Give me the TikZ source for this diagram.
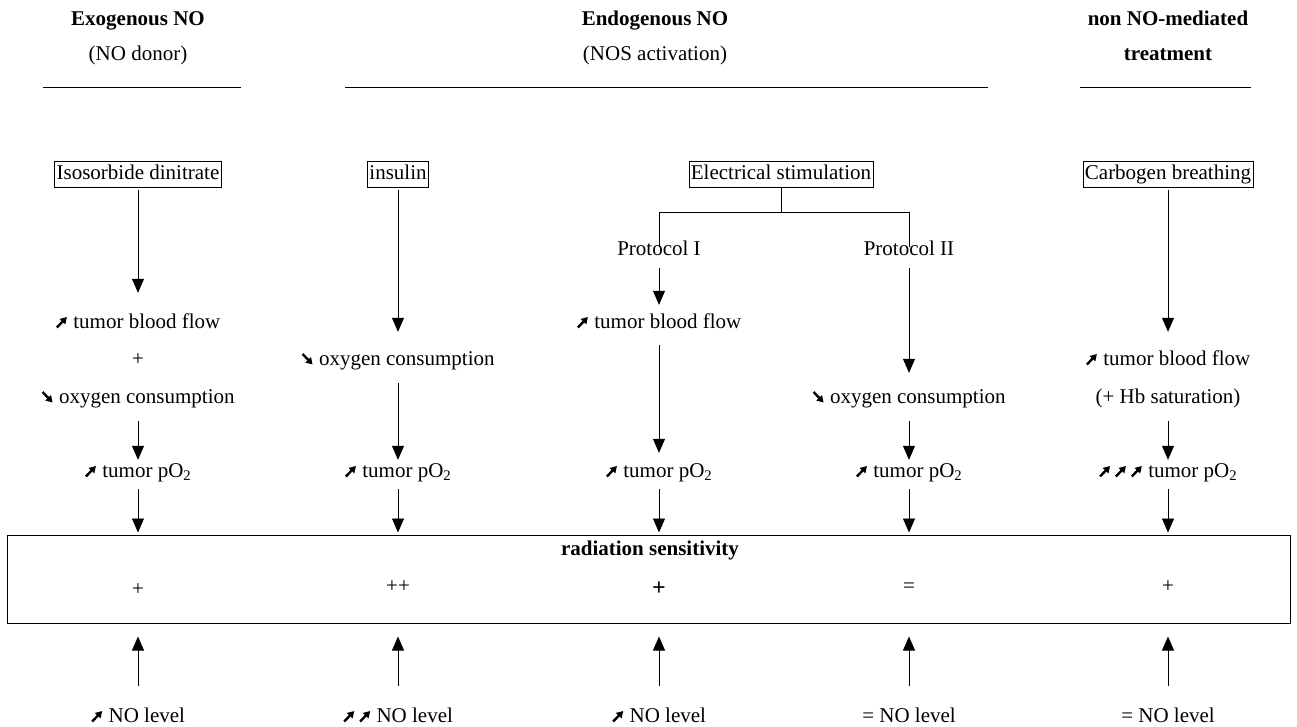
\documentclass[tikz,border=0pt]{standalone}
\usepackage{fontspec}
\setmainfont{Liberation Serif}
\usetikzlibrary{arrows.meta}
\newcommand{\incr}{\tikz[x=1pt,y=1pt,baseline=0pt]{\draw[line width=2.4pt,-{Triangle[width=7.5pt,length=6.5pt]}] (0,0.5) -- (10,11);}}
\newcommand{\decr}{\tikz[x=1pt,y=1pt,baseline=0pt]{\draw[line width=2.4pt,-{Triangle[width=7.5pt,length=6.5pt]}] (0,11) -- (10,0.5);}}
\begin{document}
\begin{tikzpicture}[x=1pt,y=-1pt,
  txt/.style={font=\fontsize{21}{25}\selectfont, text height=14pt, text depth=4pt, inner xsep=2pt, inner ysep=0pt},
  hd/.style={txt, font=\fontsize{21}{25}\selectfont\bfseries},
  bx/.style={txt, draw, line width=0.8pt, inner xsep=2pt, inner ysep=4pt},
  arr/.style={-{Triangle[width=12pt,length=14pt]}, line width=0.8pt},
  rule/.style={line width=1pt},
  thin/.style={line width=0.8pt}]
\useasboundingbox (0,0) rectangle (1297,726);

% headers
\node[hd]  (h1) at (138,20) {Exogenous NO};
\node[txt] (s1) at (138,55) {(NO donor)};
\node[hd]  (h2) at (655,20) {Endogenous NO};
\node[txt] (s2) at (655,55) {(NOS activation)};
\node[hd]  (h3) at (1168,20) {non NO-mediated};
\node[hd]  (s3) at (1168,55) {treatment};
\draw[rule] (43,87) -- (241,87);
\draw[rule] (345,87) -- (988,87);
\draw[rule] (1080,87) -- (1251,87);

% treatment boxes
\node[bx] (b1) at (138,174) {Isosorbide dinitrate};
\node[bx] (b2) at (398,174) {insulin};
\node[bx] (b3) at (781,174) {Electrical stimulation};
\node[bx] (b5) at (1168,174) {Carbogen breathing};

% column 1
\node[txt] (t1) at (138,323) {\incr\ tumor blood flow};
\node[txt] (pl1) at (138,360) {+};
\node[txt] (o1) at (138,398) {\decr\ oxygen consumption};
\node[txt] (p1) at (138,472) {\incr\ tumor pO\textsubscript{2}};
% column 2
\node[txt] (o2) at (398,360) {\decr\ oxygen consumption};
\node[txt] (p2) at (398,472) {\incr\ tumor pO\textsubscript{2}};
% column 3
\node[txt] (pI) at (659,250) {Protocol I};
\node[txt] (t3) at (659,323) {\incr\ tumor blood flow};
\node[txt] (p3) at (659,472) {\incr\ tumor pO\textsubscript{2}};
% column 4
\node[txt] (pII) at (909,250) {Protocol II};
\node[txt] (o4) at (909,398) {\decr\ oxygen consumption};
\node[txt] (p4) at (909,472) {\incr\ tumor pO\textsubscript{2}};
% column 5
\node[txt] (t5) at (1168,360) {\incr\ tumor blood flow};
\node[txt] (hb5) at (1168,398) {(+ Hb saturation)};
\node[txt] (p5) at (1168,472) {\incr\,\incr\,\incr\ tumor pO\textsubscript{2}};

% radiation sensitivity box
\node[draw, line width=1pt, minimum width=1283pt, minimum height=88pt, inner sep=0pt] (rad) at (648.5,579) {};
\node[hd] (rs) at (650,550) {radiation sensitivity};
\node[txt] (r1) at (138,590) {+};
\node[txt] (r2) at (398,587) {++};
\node[txt, font=\fontsize{24}{28}\selectfont\bfseries] (r3) at (659,590) {+};
\node[txt] (r4) at (909,587) {=};
\node[txt] (r5) at (1168,587) {+};

% NO level row
\node[txt] (n1) at (138,717) {\incr\ NO level};
\node[txt] (n2) at (398,717) {\incr\,\incr\ NO level};
\node[txt] (n3) at (659,717) {\incr\ NO level};
\node[txt] (n4) at (909,717) {= NO level};
\node[txt] (n5) at (1168,717) {= NO level};

% bracket for electrical stimulation
\coordinate (bl) at (659,212);
\coordinate (br) at (909,212);
\draw[thin] (b3.south) -- (b3.south |- bl);
\draw[thin] ([yshift=-6pt]pI.north) -- (bl) -- (br) -- ([yshift=-6pt]pII.north);

% column arrows
\draw[arr, shorten <=3pt, shorten >=21pt] (b1.south) -- (t1.north);
\draw[arr, shorten <=14pt, shorten >=3pt] (o1.south) -- (p1.north);
\draw[arr, shorten <=3pt, shorten >=19pt] (b2.south) -- (o2.north);
\draw[arr, shorten <=14pt, shorten >=3pt] (o2.south) -- (p2.north);
\draw[arr, shorten <=9pt, shorten >=9pt] (pI.south) -- (t3.north);
\draw[arr, shorten <=13pt, shorten >=10pt] (t3.south) -- (p3.north);
\draw[arr, shorten <=9pt, shorten >=16pt] (pII.south) -- (o4.north);
\draw[arr, shorten <=14pt, shorten >=3pt] (o4.south) -- (p4.north);
\draw[arr, shorten <=3pt, shorten >=19pt] (b5.south) -- (t5.north);
\draw[arr, shorten <=14pt, shorten >=3pt] (hb5.south) -- (p5.north);

% arrows into the radiation box
\foreach \p in {p1,p2,p3,p4,p5}
  \draw[arr, shorten <=8pt, shorten >=2pt] (\p.south) -- (\p.south |- rad.north);
\foreach \n in {n1,n2,n3,n4,n5}
  \draw[arr, shorten <=22pt, shorten >=13pt] (\n.north) -- (\n.north |- rad.south);
\end{tikzpicture}
\end{document}
